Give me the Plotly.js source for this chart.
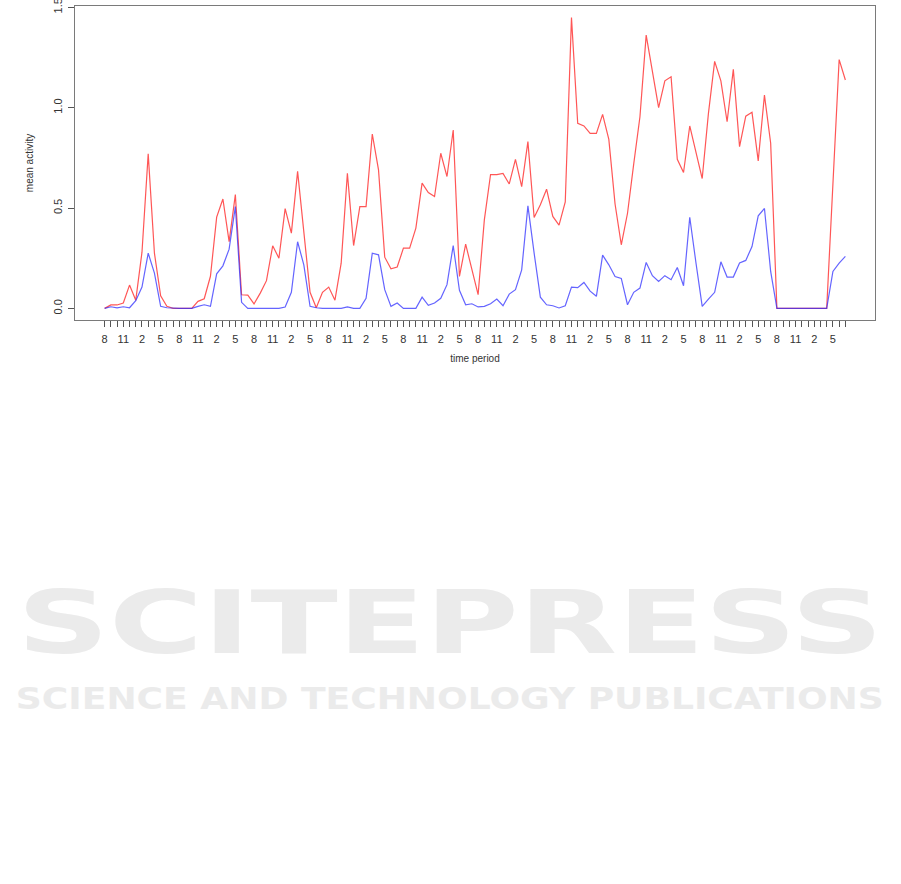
<!DOCTYPE html>
<html>
<head>
<meta charset="utf-8">
<script src="https://cdn.plot.ly/plotly-3.0.1.min.js"></script>
<style>
  html, body { margin: 0; padding: 0; background: #ffffff; }
  #chart { width: 901px; height: 884px; }
</style>
</head>
<body>
<div id="chart"></div>
<script>
// ---- data ----
const redSeries = [
  0.00, 0.017, 0.017, 0.027, 0.116, 0.04, 0.28, 0.77, 0.275, 0.063,
  0.01, 0, 0, 0, 0, 0.035, 0.048, 0.16, 0.455, 0.545,
  0.333, 0.567, 0.068, 0.066, 0.022, 0.076, 0.138, 0.312, 0.25, 0.497,
  0.375, 0.683, 0.39, 0.08, 0.003, 0.08, 0.106, 0.041, 0.225, 0.673,
  0.313, 0.507, 0.507, 0.869, 0.69, 0.255, 0.197, 0.206, 0.30, 0.30,
  0.40, 0.624, 0.577, 0.557, 0.773, 0.657, 0.889, 0.159, 0.32, 0.192,
  0.068, 0.441, 0.667, 0.667, 0.673, 0.62, 0.743, 0.607, 0.831, 0.453,
  0.516, 0.594, 0.458, 0.415, 0.531, 1.449, 0.922, 0.909, 0.872, 0.872,
  0.967, 0.842, 0.52, 0.317, 0.474, 0.72, 0.955, 1.362, 1.18, 1.0,
  1.134, 1.154, 0.743, 0.677, 0.909, 0.781, 0.647, 0.972, 1.231, 1.134,
  0.93, 1.191, 0.806, 0.958, 0.977, 0.735, 1.063, 0.823, 0, 0,
  0, 0, 0, 0, 0, 0, 0, 0.62, 1.24, 1.138
];
const blueSeries = [
  0, 0.008, 0.003, 0.008, 0.003, 0.038, 0.106, 0.275, 0.176, 0.01,
  0.003, 0, 0, 0, 0, 0.01, 0.018, 0.01, 0.172, 0.212,
  0.295, 0.507, 0.03, 0, 0, 0, 0, 0, 0, 0.007,
  0.08, 0.332, 0.217, 0.01, 0.003, 0, 0, 0, 0, 0.007,
  0, 0, 0.05, 0.275, 0.267, 0.093, 0.01, 0.027, 0, 0,
  0, 0.056, 0.015, 0.027, 0.05, 0.118, 0.313, 0.09, 0.018, 0.023,
  0.007, 0.01, 0.023, 0.046, 0.013, 0.071, 0.093, 0.192, 0.511, 0.275,
  0.056, 0.018, 0.013, 0.002, 0.013, 0.106, 0.103, 0.129, 0.086, 0.06,
  0.265, 0.217, 0.159, 0.149, 0.018, 0.08, 0.101, 0.229, 0.163, 0.134,
  0.163, 0.143, 0.204, 0.113, 0.454, 0.226, 0.01, 0.046, 0.08, 0.232,
  0.156, 0.156, 0.226, 0.239, 0.308, 0.461, 0.498, 0.184, 0, 0,
  0, 0, 0, 0, 0, 0, 0, 0.184, 0.226, 0.259
];
// hour-of-day labels shown under every third period
const tickLabels = [
  '8','11','2','5','8','11','2','5','8','11',
  '2','5','8','11','2','5','8','11','2','5',
  '8','11','2','5','8','11','2','5','8','11',
  '2','5','8','11','2','5','8','11','2','5'
];
const yTickVals = [0.0, 0.5, 1.0, 1.5];
const yTickText = ['0.0', '0.5', '1.0', '1.5'];

// ---- derived ----
const periods = redSeries.map((_, i) => i);
const labelStep = 3;
const xTickText = periods.map(i => (i % labelStep === 0 && tickLabels[i / labelStep] !== undefined) ? tickLabels[i / labelStep] : '');

const n = periods.length;
const xPad = 0.04 * (n - 1);
const yMax = Math.max(...redSeries, ...blueSeries);
const yPad = 0.04 * yMax;

const FONT = 'Liberation Sans, Arial, Helvetica, sans-serif';
const AXIS_COL = '#7a7a7a';

const traces = [
  { x: periods, y: redSeries, type: 'scatter', mode: 'lines',
    line: { color: 'rgba(255,30,30,0.75)', width: 1.2 }, hoverinfo: 'skip', showlegend: false },
  { x: periods, y: blueSeries, type: 'scatter', mode: 'lines',
    line: { color: 'rgba(40,40,255,0.72)', width: 1.2 }, hoverinfo: 'skip', showlegend: false }
];

const layout = {
  width: 901, height: 884,
  margin: { l: 75, r: 26, t: 6, b: 564, pad: 0 },
  paper_bgcolor: '#ffffff', plot_bgcolor: '#ffffff',
  showlegend: false,
  font: { family: FONT, size: 11, color: '#333333' },
  xaxis: {
    range: [-xPad, (n - 1) + xPad],
    tickmode: 'array', tickvals: periods, ticktext: xTickText,
    ticks: 'outside', ticklen: 6, tickwidth: 1, tickcolor: '#555',
    showgrid: false, zeroline: false,
    showline: true, linecolor: AXIS_COL, linewidth: 1, mirror: true,
    tickfont: { family: FONT, size: 11, color: '#333' },
    ticklabelstandoff: 3,
    title: { text: 'time period', font: { family: FONT, size: 10, color: '#333' }, standoff: 10 },
    fixedrange: true
  },
  yaxis: {
    range: [-yPad, yMax + yPad],
    tickmode: 'array', tickvals: yTickVals, ticktext: yTickText,
    tickangle: -90,
    ticks: 'outside', ticklen: 6, tickwidth: 1, tickcolor: '#555',
    ticklabeloverflow: 'allow',
    ticklabelstandoff: 2,
    showgrid: false, zeroline: false,
    showline: true, linecolor: AXIS_COL, linewidth: 1, mirror: true,
    tickfont: { family: FONT, size: 11, color: '#333' },
    title: { text: 'mean activity', font: { family: FONT, size: 10, color: '#333' }, standoff: 16 },
    fixedrange: true
  },
  annotations: [
    { text: 'SCITEPRESS', xref: 'paper', yref: 'paper',
      x: (450 - 75) / 799.7, y: (320 - 623) / 314.5, showarrow: false,
      xanchor: 'center', yanchor: 'middle',
      font: { family: 'DejaVu Sans, sans-serif', size: 88, color: '#ebebeb', weight: 700 } },
    { text: 'SCIENCE AND TECHNOLOGY PUBLICATIONS', xref: 'paper', yref: 'paper',
      x: (450 - 75) / 799.7, y: (320 - 699) / 314.5, showarrow: false,
      xanchor: 'center', yanchor: 'middle',
      font: { family: 'DejaVu Sans, sans-serif', size: 30, color: '#ebebeb', weight: 700 } }
  ]
};

Plotly.newPlot('chart', traces, layout, { staticPlot: true, displayModeBar: false }).then(() => {
  // stretch the faint publisher watermark to its full width
  const widths = { 'SCITEPRESS': 866, 'SCIENCE AND TECHNOLOGY PUBLICATIONS': 868 };
  document.querySelectorAll('.annotation-text').forEach(t => {
    const w = widths[t.textContent];
    if (w) {
      t.setAttribute('textLength', w);
      t.setAttribute('lengthAdjust', 'spacingAndGlyphs');
    }
  });
});
</script>
</body>
</html>
